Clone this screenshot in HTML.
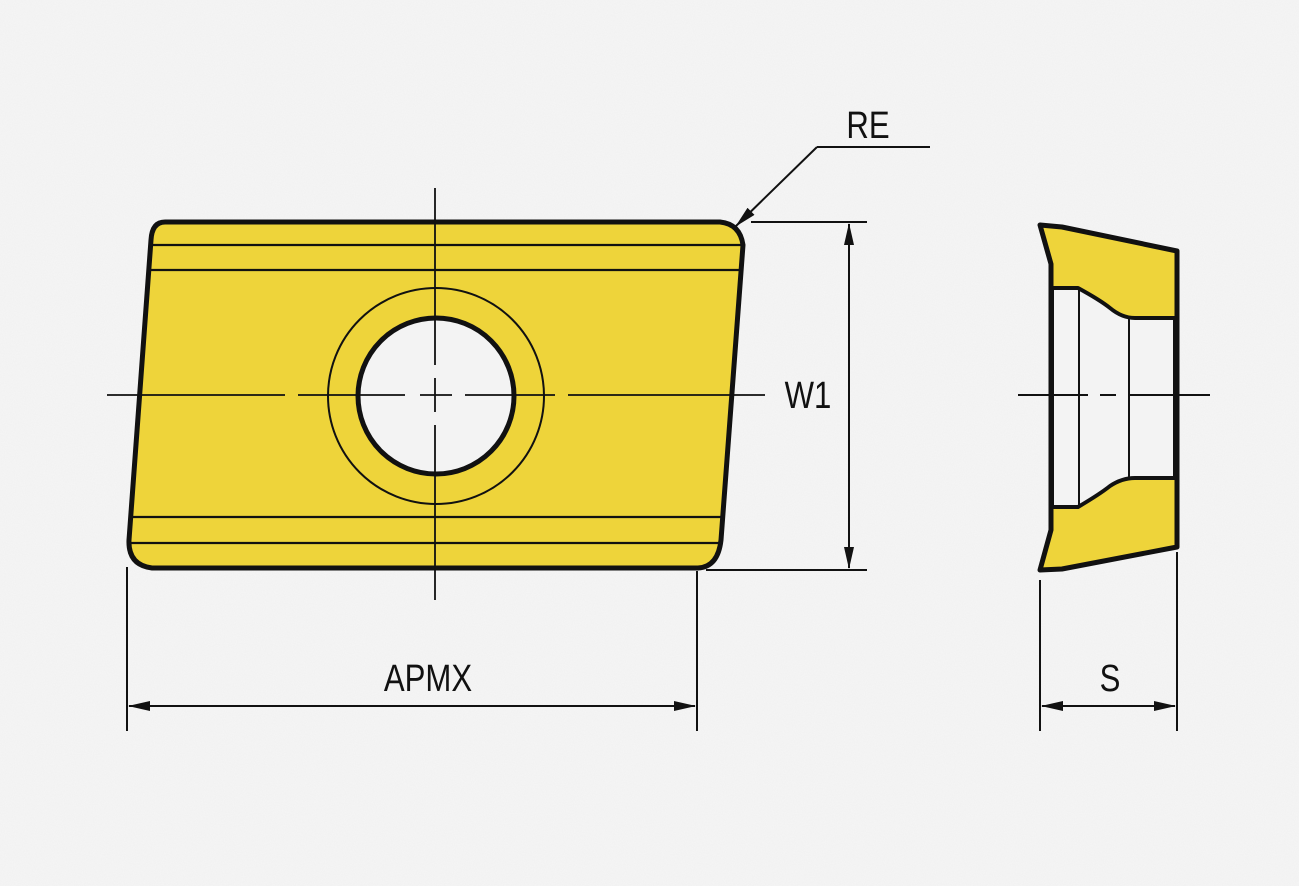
<!DOCTYPE html>
<html><head><meta charset="utf-8"><style>
html,body{margin:0;padding:0;background:#f3f3f3;}
svg{display:block}
text{font-family:"Liberation Sans",sans-serif;fill:#111}
</style></head><body>
<svg width="1299" height="886" viewBox="0 0 1299 886" xmlns="http://www.w3.org/2000/svg">
<defs>
<filter id="n"><feTurbulence type="fractalNoise" baseFrequency="0.9" numOctaves="2" seed="3"/><feColorMatrix values="0 0 0 0 0.6  0 0 0 0 0.6  0 0 0 0 0.6  0 0 0 0.1 0"/></filter>
<marker id="a" markerWidth="22" markerHeight="10" refX="21" refY="5" orient="auto" markerUnits="userSpaceOnUse"><path d="M0,0 L22,5 L0,10 Z" fill="#111"/></marker>
<marker id="b" markerWidth="22" markerHeight="10" refX="1" refY="5" orient="auto" markerUnits="userSpaceOnUse"><path d="M22,0 L0,5 L22,10 Z" fill="#111"/></marker>
</defs>
<rect width="1299" height="886" fill="#f5f5f5"/>
<rect width="1299" height="886" filter="url(#n)"/>

<path d="M165,222 L720,222 Q740,224 743,245 L721,540 Q718,567 698,568 L152,568 Q128,565 129,540 L151,240 Q152,222 165,222 Z" fill="#eed43a" stroke="#111" stroke-width="5"/>
<g stroke="#111" stroke-width="2.2">
<line x1="152" y1="245" x2="741" y2="245"/>
<line x1="150" y1="270" x2="739" y2="270"/>
<line x1="132" y1="517" x2="723" y2="517"/>
<line x1="130" y1="543" x2="721" y2="543"/>
</g>
<circle cx="436" cy="396" r="108" fill="none" stroke="#111" stroke-width="2"/>
<circle cx="436" cy="396" r="78" fill="#f3f3f3" stroke="#111" stroke-width="5"/>
<g stroke="#111" stroke-width="1.8" fill="none">
<path d="M107,395 H285 M298,395 H405 M420,395 H452 M465,395 H555 M568,395 H765"/>
<path d="M435,188 V365 M435,378 V412 M435,425 V600"/>
</g>

<g stroke="#111" stroke-width="2" fill="none">
<line x1="751" y1="222" x2="867" y2="222"/>
<line x1="706" y1="570" x2="867" y2="570"/>
<line x1="849" y1="224" x2="849" y2="568" marker-start="url(#b)" marker-end="url(#a)"/>
</g>
<text x="808" y="408" font-size="38" transform="translate(808 0) scale(0.82 1) translate(-808 0)" text-anchor="middle">W1</text>

<g stroke="#111" stroke-width="2" fill="none">
<line x1="930" y1="147" x2="817" y2="147"/>
<line x1="817" y1="147" x2="736" y2="226" marker-end="url(#a)"/>
</g>
<text x="868" y="138" font-size="38" transform="translate(868 0) scale(0.82 1) translate(-868 0)" text-anchor="middle">RE</text>

<g stroke="#111" stroke-width="2" fill="none">
<line x1="127" y1="567" x2="127" y2="731"/>
<line x1="697" y1="571" x2="697" y2="731"/>
<line x1="129" y1="706" x2="695" y2="706" marker-start="url(#b)" marker-end="url(#a)"/>
</g>
<text x="428" y="691" font-size="38" transform="translate(428 0) scale(0.82 1) translate(-428 0)" text-anchor="middle">APMX</text>

<path d="M1040,225 L1062,227 L1177,251 L1177,547 L1062,569 L1040,570 L1051,530 L1051,264 Z" fill="#eed43a" stroke="#111" stroke-width="5" stroke-linejoin="round"/>
<path d="M1052,288 L1078,288 Q1100,300 1110,308 Q1122,318 1135,318 L1175,318 L1175,478 L1135,478 Q1122,478 1110,486 Q1100,494 1078,507 L1052,507 Z" fill="#f3f3f3" stroke="#111" stroke-width="4" stroke-linejoin="round"/>
<g stroke="#111" stroke-width="2" fill="none">
<line x1="1079" y1="290" x2="1079" y2="506"/>
<line x1="1129" y1="318" x2="1129" y2="478"/>
<path d="M1018,395 H1088 M1100,395 H1116 M1128,395 H1210"/>
<line x1="1040" y1="580" x2="1040" y2="731"/>
<line x1="1177" y1="552" x2="1177" y2="731"/>
<line x1="1042" y1="706" x2="1175" y2="706" marker-start="url(#b)" marker-end="url(#a)"/>
</g>
<text x="1110" y="691" font-size="38" transform="translate(1110 0) scale(0.82 1) translate(-1110 0)" text-anchor="middle">S</text>
</svg>
</body></html>
